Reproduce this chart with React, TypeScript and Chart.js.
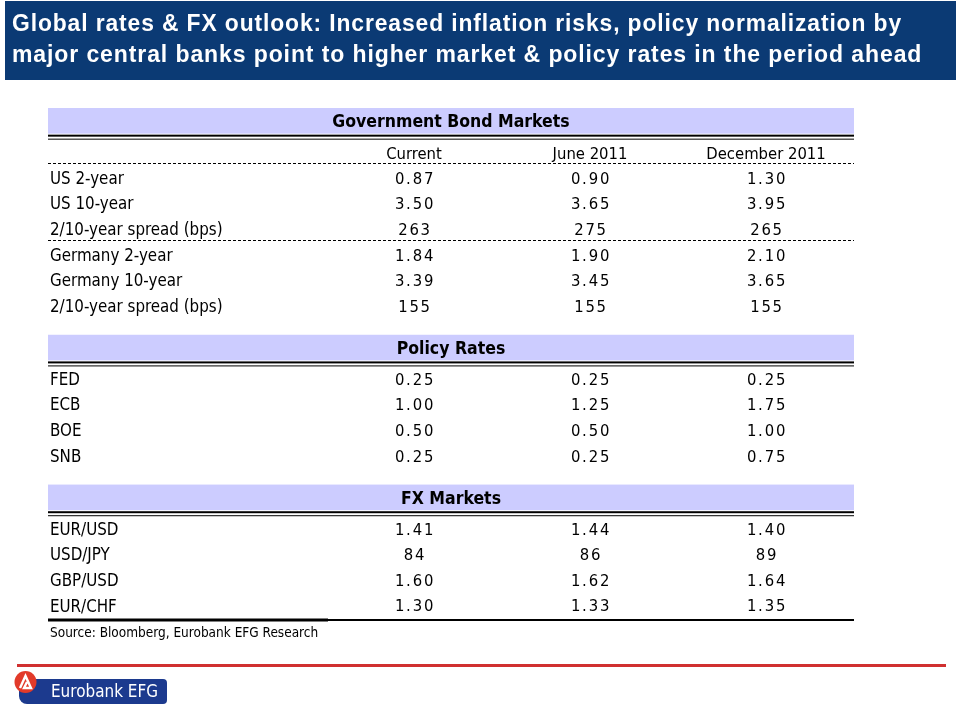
import React, { useEffect, useRef } from 'react';
import { Chart, registerables } from 'chart.js';

Chart.register(...registerables);

// ---------- data ----------
const TITLE_LINES = [
  'Global rates & FX outlook: Increased inflation risks, policy normalization by',
  'major central banks point to higher market & policy rates in the period ahead',
];
const COLUMNS = ['Current', 'June 2011', 'December 2011'];
const SECTION_TITLES = ['Government Bond Markets', 'Policy Rates', 'FX Markets'];

const BOND_LABELS = [
  'US 2-year',
  'US 10-year',
  '2/10-year spread (bps)',
  'Germany 2-year',
  'Germany 10-year',
  '2/10-year spread (bps)',
];
const BOND_CURRENT = [0.87, 3.5, 263, 1.84, 3.39, 155];
const BOND_JUNE = [0.9, 3.65, 275, 1.9, 3.45, 155];
const BOND_DEC = [1.3, 3.95, 265, 2.1, 3.65, 155];
const BOND_GROUP_BREAKS = [3];

const POLICY_LABELS = ['FED', 'ECB', 'BOE', 'SNB'];
const POLICY_CURRENT = [0.25, 1.0, 0.5, 0.25];
const POLICY_JUNE = [0.25, 1.25, 0.5, 0.25];
const POLICY_DEC = [0.25, 1.75, 1.0, 0.75];

const FX_LABELS = ['EUR/USD', 'USD/JPY', 'GBP/USD', 'EUR/CHF'];
const FX_CURRENT = [1.41, 84, 1.6, 1.3];
const FX_JUNE = [1.44, 86, 1.62, 1.33];
const FX_DEC = [1.4, 89, 1.64, 1.35];

const SOURCE_TEXT = 'Source: Bloomberg, Eurobank EFG Research';
const BRAND_TEXT = 'Eurobank EFG';

// ---------- structure (row units) ----------
const SECTIONS = [
  { title: SECTION_TITLES[0], labels: BOND_LABELS, series: [BOND_CURRENT, BOND_JUNE, BOND_DEC], columnHeader: true, breaks: BOND_GROUP_BREAKS },
  { title: SECTION_TITLES[1], labels: POLICY_LABELS, series: [POLICY_CURRENT, POLICY_JUNE, POLICY_DEC], columnHeader: false, breaks: [] as number[] },
  { title: SECTION_TITLES[2], labels: FX_LABELS, series: [FX_CURRENT, FX_JUNE, FX_DEC], columnHeader: false, breaks: [] as number[] },
];

const BAND_U = 1.28;
const GAP_U = 0.56;

type RowItem = { label: string; pos: number; values: number[] };
type BandItem = { title: string; top: number };

const bands: BandItem[] = [];
const rows: RowItem[] = [];
const headerRows: number[] = [];
const dashedRules: number[] = [];
let cursor = 0;
SECTIONS.forEach((s, si) => {
  if (si > 0) cursor += GAP_U;
  bands.push({ title: s.title, top: cursor });
  cursor += BAND_U;
  if (s.columnHeader) {
    headerRows.push(cursor + 0.5);
    cursor += 1;
    dashedRules.push(cursor);
  }
  s.labels.forEach((label, i) => {
    if (i > 0 && s.breaks.includes(i)) dashedRules.push(cursor);
    rows.push({ label, pos: cursor + 0.5, values: s.series.map((arr) => arr[i]) });
    cursor += 1;
  });
});
const TOTAL_U = cursor;

const fmt = (v: number) => (v >= 10 ? String(Math.round(v)) : v.toFixed(2));

const FONT_COND = '"DejaVu Sans Condensed", "DejaVu Sans", sans-serif';

const tablePlugin = {
  id: 'tableDecor',
  beforeDraw(chart: any) {
    const { ctx, width, height } = chart;
    ctx.save();
    ctx.fillStyle = '#ffffff';
    ctx.fillRect(0, 0, width, height);
    // title box
    ctx.fillStyle = '#0b3a74';
    ctx.fillRect(5, 1, 951, 79);
    ctx.fillStyle = '#ffffff';
    ctx.font = 'bold 23px "Liberation Sans", Arial, sans-serif';
    ctx.textAlign = 'left';
    ctx.textBaseline = 'alphabetic';
    (ctx as any).letterSpacing = '0.9px';
    ctx.fillText(TITLE_LINES[0], 12, 31, 890);
    ctx.fillText(TITLE_LINES[1], 12, 62, 918);
    (ctx as any).letterSpacing = '0px';
    ctx.restore();
  },
  afterDraw(chart: any) {
    const { ctx, chartArea } = chart;
    const x = chart.scales.x;
    const y = chart.scales.y;
    const left = y.left - 2;
    const right = chartArea.right;
    const mid = (left + right) / 2;
    ctx.save();

    // section bands
    bands.forEach((b) => {
      const top = y.getPixelForValue(b.top);
      const bottom = y.getPixelForValue(b.top + 1);
      ctx.fillStyle = '#ccccff';
      ctx.fillRect(left, top, right - left, bottom - top);
      ctx.fillStyle = '#000';
      ctx.fillRect(left, bottom + 1, right - left, 2);
      ctx.fillRect(left, bottom + 5, right - left, 1);
      ctx.font = `bold 17.5px ${FONT_COND}`;
      ctx.textAlign = 'center';
      ctx.textBaseline = 'middle';
      ctx.fillText(b.title, mid, (top + bottom) / 2 + 2);
    });

    // column headers
    ctx.font = `16.5px ${FONT_COND}`;
    ctx.fillStyle = '#000';
    ctx.textAlign = 'center';
    ctx.textBaseline = 'middle';
    headerRows.forEach((p) => {
      COLUMNS.forEach((c, ci) => {
        ctx.fillText(c, x.getPixelForValue(ci), y.getPixelForValue(p) + 1);
      });
    });

    // dashed rules
    ctx.strokeStyle = '#000';
    ctx.lineWidth = 1;
    ctx.setLineDash([3, 2]);
    dashedRules.forEach((p) => {
      const py = Math.round(y.getPixelForValue(p)) - 2.5;
      ctx.beginPath();
      ctx.moveTo(left, py);
      ctx.lineTo(right, py);
      ctx.stroke();
    });
    ctx.setLineDash([]);

    // values
    ctx.font = `16.5px ${FONT_COND}`;
    (ctx as any).letterSpacing = '1.8px';
    rows.forEach((r) => {
      r.values.forEach((v, ci) => {
        ctx.fillText(fmt(v), x.getPixelForValue(ci) + 1, y.getPixelForValue(r.pos));
      });
    });
    (ctx as any).letterSpacing = '0px';

    // bottom rule
    const by = y.getPixelForValue(TOTAL_U);
    ctx.fillStyle = '#000';
    ctx.fillRect(left, by - 1, right - left, 2);
    ctx.fillRect(left, by - 1.5, chartArea.left + 2 - left, 3);

    // source
    ctx.font = `13.5px ${FONT_COND}`;
    ctx.textAlign = 'left';
    ctx.textBaseline = 'middle';
    ctx.fillText(SOURCE_TEXT, y.left, by + 13);

    // red rule
    ctx.fillStyle = '#d03030';
    ctx.fillRect(17, 664, 929, 3);

    // brand logo
    ctx.fillStyle = '#1c3a8e';
    ctx.beginPath();
    (ctx as any).roundRect(19, 679, 148, 25, [0, 4, 4, 8]);
    ctx.fill();
    ctx.fillStyle = '#e23a2a';
    ctx.beginPath();
    ctx.arc(25.5, 682, 11, 0, Math.PI * 2);
    ctx.fill();
    ctx.strokeStyle = '#ffffff';
    ctx.lineWidth = 2.4;
    ctx.beginPath();
    ctx.moveTo(20, 688);
    ctx.lineTo(25.5, 676);
    ctx.lineTo(31, 688);
    ctx.lineTo(24, 688);
    ctx.lineTo(27, 682);
    ctx.stroke();
    ctx.fillStyle = '#ffffff';
    ctx.font = `18px ${FONT_COND}`;
    ctx.textAlign = 'left';
    ctx.textBaseline = 'middle';
    ctx.fillText(BRAND_TEXT, 51, 692.5, 107);

    ctx.restore();
  },
};

export default function App() {
  const canvasRef = useRef<HTMLCanvasElement | null>(null);

  useEffect(() => {
    const canvas = canvasRef.current;
    if (!canvas) return;
    const chart = new Chart(canvas, {
      type: 'line',
      data: { labels: COLUMNS, datasets: [] },
      options: {
        animation: false,
        responsive: false,
        devicePixelRatio: 1,
        layout: { padding: { left: 50, right: 106, top: 108, bottom: 86 } },
        plugins: { legend: { display: false }, tooltip: { enabled: false }, title: { display: false } },
        scales: {
          x: {
            type: 'category',
            labels: COLUMNS,
            offset: true,
            display: false,
          },
          y: {
            type: 'linear',
            reverse: true,
            min: 0,
            max: TOTAL_U,
            bounds: 'data',
            grid: { display: false, drawTicks: false },
            border: { display: false },
            afterBuildTicks: (scale: any) => {
              scale.ticks = rows.map((r) => ({ value: r.pos }));
            },
            afterFit: (scale: any) => {
              scale.width = 276;
            },
            ticks: {
              autoSkip: false,
              crossAlign: 'far',
              padding: 0,
              color: '#000',
              font: { family: FONT_COND, size: 16.8 },
              callback: (_v: any, i: number) => rows[i].label,
            },
          },
        },
      } as any,
      plugins: [tablePlugin],
    });
    return () => chart.destroy();
  }, []);

  return (
    <div style={{ position: 'fixed', left: 0, top: 0, width: 960, height: 706, background: '#fff' }}>
      <canvas ref={canvasRef} width={960} height={706} style={{ display: 'block' }} />
    </div>
  );
}
